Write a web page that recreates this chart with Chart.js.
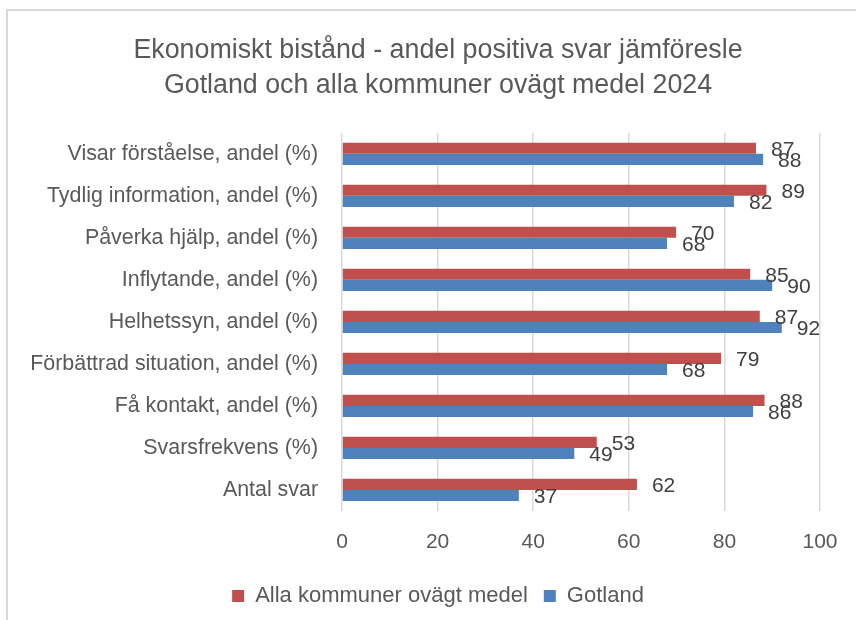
<!DOCTYPE html>
<html>
<head>
<meta charset="utf-8">
<script src="https://cdn.jsdelivr.net/npm/chart.js@4"></script>
<style>
  body { margin: 0; background: #fff; }
  #wrap { position: relative; width: 856px; height: 620px; overflow: hidden; }
  #frame { position: absolute; left: 6px; top: 9px; width: 900px; height: 700px;
           border-top: 2px solid #d9d9d9; border-left: 2px solid #d9d9d9; }
  canvas { position: absolute; left: 0; top: 0; }
</style>
</head>
<body>
<div id="wrap">
  <div id="frame"></div>
  <canvas id="barChart" width="856" height="620"></canvas>
</div>
<script>
const categories = [
    'Visar förståelse, andel (%)',
    'Tydlig information, andel (%)',
    'Påverka hjälp, andel (%)',
    'Inflytande, andel (%)',
    'Helhetssyn, andel (%)',
    'Förbättrad situation, andel (%)',
    'Få kontakt, andel (%)',
    'Svarsfrekvens (%)',
    'Antal svar'
];
const allaKommuner = [86.6, 88.8, 69.9, 85.4, 87.4, 79.3, 88.4, 53.3, 61.7];
const gotland = [88.1, 82.0, 68.0, 90.0, 92.0, 68.0, 86.0, 48.6, 37.0];
const titleLines = [
    'Ekonomiskt bistånd - andel positiva svar jämföresle',
    'Gotland och alla kommuner ovägt medel 2024'
];

const font = '"Liberation Sans", Arial, sans-serif';

// value labels just past the end of each bar
const valueLabels = {
    id: 'valueLabels',
    afterDatasetsDraw(chart) {
        const ctx = chart.ctx;
        ctx.save();
        ctx.font = '21px ' + font;
        ctx.fillStyle = '#404040';
        ctx.textAlign = 'left';
        ctx.textBaseline = 'middle';
        chart.data.datasets.forEach((ds, i) => {
            chart.getDatasetMeta(i).data.forEach((bar, j) => {
                ctx.fillText(Math.round(ds.data[j]), bar.x + 15, bar.y + 2);
            });
        });
        ctx.restore();
    }
};

const data = {
    labels: categories,
    datasets: [{
        label: 'Alla kommuner ovägt medel',
        data: allaKommuner,
        backgroundColor: '#C0504D',
        categoryPercentage: 0.53,
        barPercentage: 1
    }, {
        label: 'Gotland',
        data: gotland,
        backgroundColor: '#4F81BD',
        categoryPercentage: 0.53,
        barPercentage: 1
    }]
};

const options = {
    responsive: false,
    animation: false,
    indexAxis: 'y',
    layout: { padding: { left: 20, right: 0, top: 0, bottom: 3 } },
    scales: {
        x: {
            min: 0,
            max: 100,
            ticks: { stepSize: 20, color: '#595959', font: { family: font, size: 21 }, padding: 19 },
            grid: { color: '#d9d9d9', lineWidth: 1.5, drawTicks: false },
            border: { display: false },
            afterFit: function (scale) {
                scale.height = 58;
                scale.paddingRight = 36;
            }
        },
        y: {
            ticks: { color: '#595959', font: { family: font, size: 21.4 }, padding: 16 },
            grid: { display: false },
            border: { display: false },
            afterFit: function (scale) {
                scale.width = 322;
            }
        }
    },
    plugins: {
        title: {
            display: true,
            text: titleLines,
            color: '#595959',
            font: { family: font, size: 26.8, weight: 'normal', lineHeight: 1.32 },
            padding: { top: 33, bottom: 29 }
        },
        legend: {
            position: 'bottom',
            labels: {
                color: '#595959',
                font: { family: font, size: 22 },
                boxWidth: 12,
                boxHeight: 12,
                padding: 16
            }
        },
        tooltip: { enabled: false }
    }
};

window.onload = function () {
    var ctx = document.getElementById('barChart').getContext('2d');
    new Chart(ctx, { type: 'bar', data: data, options: options, plugins: [valueLabels] });
};
</script>
</body>
</html>
